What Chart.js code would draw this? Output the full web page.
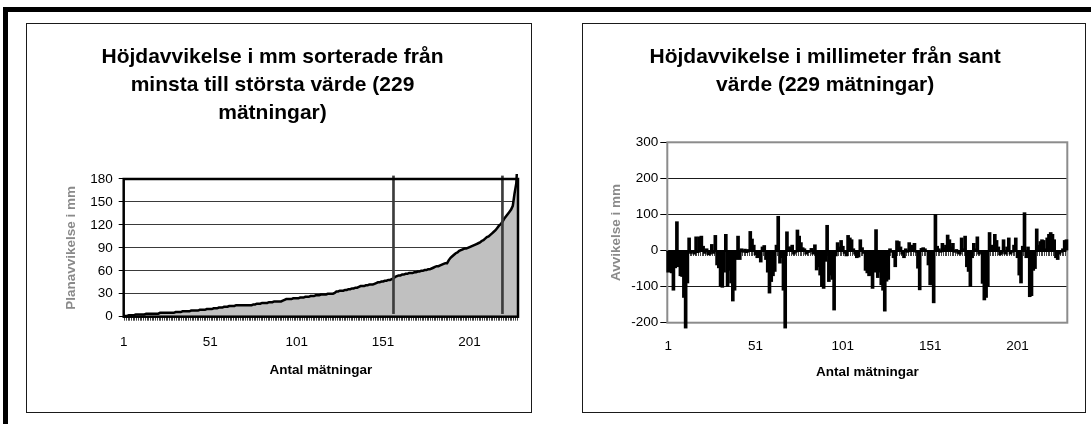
<!DOCTYPE html>
<html>
<head>
<meta charset="utf-8">
<script src="https://cdn.jsdelivr.net/npm/chart.js@4.4.1/dist/chart.umd.min.js"></script>
<style>
  html, body { margin: 0; padding: 0; background: #fff; width: 1091px; height: 424px; overflow: hidden; }
  #frame { position: absolute; left: 3px; top: 7px; width: 1200px; height: 500px;
           border-left: 5px solid #000; border-top: 5px solid #000; }
  .panel { position: absolute; top: 23px; height: 388px; border: 1px solid #1a1a1a; background: #fff; }
  #p1 { left: 26px; width: 504px; }
  #p2 { left: 582px; width: 502px; }
  canvas { display: block; }
</style>
</head>
<body>
<div id="frame"></div>
<div class="panel" id="p1"><canvas id="c1" width="504" height="388"></canvas></div>
<div class="panel" id="p2"><canvas id="c2" width="502" height="388"></canvas></div>

<script>
// ---- data ---------------------------------------------------------------
const measurementCount = 229;
const categories = [];
for (let i = 1; i <= measurementCount; i++) categories.push(String(i));

const xTickLabels = ['1', '51', '101', '151', '201'];

// sorted height deviations in mm (smallest to largest)
const sortedDeviation = [
  1, 1, 1, 2, 2, 2, 2, 3, 3, 3,
  3, 3, 3, 4, 4, 4, 4, 4, 4, 4,
  4, 5, 5, 5, 5, 5, 5, 5, 5, 5,
  6, 6, 6, 6, 7, 7, 7, 7, 7, 8,
  8, 8, 8, 8, 9, 9, 9, 9, 10, 10,
  10, 10, 11, 11, 11, 12, 12, 12, 13, 13,
  13, 14, 14, 14, 14, 15, 15, 15, 15, 15,
  15, 15, 15, 15, 15, 16, 16, 17, 17, 17,
  18, 18, 18, 18, 19, 19, 19, 20, 20, 20,
  20, 20, 21, 22, 23, 23, 23, 23, 24, 24,
  24, 24, 25, 25, 25, 26, 26, 26, 27, 27,
  27, 28, 28, 28, 29, 29, 29, 29, 30, 30,
  30, 30, 31, 33, 33, 34, 34, 34, 35, 35,
  36, 36, 37, 37, 38, 38, 39, 40, 40, 40,
  41, 41, 42, 42, 42, 43, 44, 45, 45, 46,
  46, 47, 47, 48, 48, 49, 50, 52, 53, 54,
  54, 55, 55, 56, 56, 57, 57, 57, 58, 58,
  59, 59, 60, 60, 61, 61, 62, 62, 63, 64,
  65, 66, 66, 67, 68, 69, 70, 70, 74, 77,
  79, 81, 83, 84, 86, 87, 88, 89, 89, 90,
  91, 92, 93, 94, 95, 96, 97, 99, 100, 102,
  104, 105, 107, 109, 111, 113, 116, 119, 121, 124,
  128, 131, 134, 137, 140, 145, 161, 174, 215
];

// percentile markers on the sorted curve (measurement number) and their vertical span
const markerCategories = ['157', '220'];
const markerSpan = [4, 184];

// deviation from true value in mm, in measurement order
const deviation = [
  -60, -58, -62, -110, -48, 80, -45, -70, -72, -130,
  -215, -90, 35, -8, -5, -10, 38, -6, 38, 40,
  12, -8, 5, -12, -10, 17, -8, 42, -40, -48,
  -100, -102, -60, 45, -100, -55, -90, -140, -110, -25,
  40, -25, 5, -5, 4, -6, 3, 53, 32, 15,
  -12, -20, -15, -32, 10, 14, -25, -60, -118, -86,
  -70, -58, 15, 95, -35, -20, -110, -215, 52, 10,
  10, 15, -10, -5, 57, 40, 22, 8, 5, -10,
  -6, -4, 6, -10, 16, -54, -45, -68, -100, -105,
  -30, 70, -86, -68, -80, -165, -15, 22, 10, 28,
  12, -8, -15, 42, 35, 30, 5, -10, -20, -18,
  30, 8, -8, -55, -62, -70, -68, -105, -60, 58,
  -75, -60, -95, -110, -168, -85, -80, 5, -5, -20,
  -45, 27, 25, 10, -10, -20, 5, -5, 22, 5,
  15, 20, -5, -49, -109, 6, 8, 5, -3, -40,
  -95, -95, -145, 100, 12, 5, -5, 20, 8, 15,
  43, 30, 10, 20, -5, 3, -8, -10, 35, 5,
  40, -45, -58, -100, -20, 20, 5, 38, -10, -5,
  -91, -137, -130, -100, 50, 15, 8, 45, 28, 10,
  -12, -8, 30, -10, 10, 35, -10, -5, 15, 35,
  -20, -68, -90, 12, 105, -20, 10, -128, -125, -55,
  -50, 60, 15, 25, 30, 28, 5, 35, 45, 50,
  45, 30, -20, -25, -10, -5, 5, 28, 30
];

// ---- shared look ----------------------------------------------------------
Chart.defaults.font.family = '"Liberation Sans", Arial, sans-serif';
Chart.defaults.color = '#000';
Chart.defaults.animation = false;

const tickFont = { size: 13.5 };
const axisTitleFont = { size: 13.5, weight: 'bold' };
const chartTitleFont = { size: 21, weight: 'bold', lineHeight: 1.3333 };

function sparseLabel(value) {
  const l = this.getLabelForValue(value);
  return xTickLabels.includes(l) ? l : '';
}

// outline around the plot area
function plotFrame(color, width, after) {
  const hook = after ? 'afterDatasetsDraw' : 'beforeDatasetsDraw';
  return {
    id: 'plotFrame',
    [hook](chart) {
      const { ctx, chartArea: a } = chart;
      ctx.save();
      ctx.strokeStyle = color;
      ctx.lineWidth = width;
      ctx.strokeRect(a.left, a.top, a.right - a.left, a.bottom - a.top);
      ctx.restore();
    }
  };
}

// the vertical axis caption is slightly soft
const softAxisTitle = {
  id: 'softAxisTitle',
  afterLayout(chart) {
    const s = chart.scales.y;
    if (s && !s._softTitle) {
      const draw = s.drawTitle.bind(s);
      s.drawTitle = function () {
        const ctx = chart.ctx;
        ctx.save();
        ctx.filter = 'blur(0.7px)';
        draw();
        ctx.restore();
      };
      s._softTitle = true;
    }
  }
};

// ---- chart 1: sorted deviations -------------------------------------------
new Chart(document.getElementById('c1'), {
  type: 'line',
  data: {
    labels: categories,
    datasets: [
      {
        type: 'bar',
        data: categories.map(c => markerCategories.includes(c) ? markerSpan : null),
        backgroundColor: '#3c3c3c',
        barThickness: 2,
        clip: false,
        order: 0
      },
      {
        type: 'line',
        data: sortedDeviation,
        borderColor: '#000',
        borderWidth: 2.5,
        backgroundColor: '#c0c0c0',
        fill: 'origin',
        pointRadius: 0,
        tension: 0,
        clip: { left: 2, top: 5, right: 2, bottom: 2 },
        order: 1
      }
    ]
  },
  options: {
    responsive: false,
    devicePixelRatio: 1,
    layout: { padding: { left: 0, right: 13, top: 0, bottom: 0 } },
    plugins: {
      legend: { display: false },
      tooltip: { enabled: false },
      title: {
        display: true,
        text: ['Höjdavvikelse i mm sorterade från', 'minsta till största värde (229', 'mätningar)'],
        font: chartTitleFont,
        color: '#000',
        padding: { top: 19, bottom: 52 }
      }
    },
    scales: {
      x: {
        type: 'category',
        offset: false,
        grid: { display: true, drawOnChartArea: false, drawTicks: true, tickLength: 4, tickColor: '#444', lineWidth: 1 },
        border: { display: false },
        ticks: { autoSkip: false, maxRotation: 0, minRotation: 0, padding: 13, font: tickFont, callback: sparseLabel },
        title: { display: true, text: 'Antal mätningar', font: axisTitleFont, padding: { top: 4, bottom: 34 } },
        afterFit(scale) { scale.height = 95.3; }
      },
      y: {
        min: 0,
        max: 180,
        ticks: { stepSize: 30, padding: 6, font: tickFont },
        grid: { color: '#3a3a3a', lineWidth: 1, tickLength: 5, tickColor: '#000' },
        border: { display: false },
        title: { display: true, text: 'Planavvikelse i mm', color: '#8a8a8a', font: axisTitleFont, padding: { top: 36.6, bottom: 0 } },
        afterFit(scale) { scale.width = 96.7; }
      }
    }
  },
  plugins: [plotFrame('#000', 2.5, true), softAxisTitle]
});

// ---- chart 2: deviation per measurement -----------------------------------
new Chart(document.getElementById('c2'), {
  type: 'bar',
  data: {
    labels: categories,
    datasets: [{
      data: deviation,
      backgroundColor: '#000',
      borderWidth: 0,
      barThickness: 3,
      clip: false
    }]
  },
  options: {
    responsive: false,
    devicePixelRatio: 1,
    layout: { padding: { left: 0, right: 17.7, top: 0, bottom: 0 } },
    plugins: {
      legend: { display: false },
      tooltip: { enabled: false },
      title: {
        display: true,
        text: ['Höjdavvikelse i millimeter från sant', 'värde (229 mätningar)'],
        font: chartTitleFont,
        color: '#000',
        padding: { top: 19, bottom: 43.3 }
      }
    },
    scales: {
      x: {
        type: 'category',
        offset: true,
        grid: { display: false, drawTicks: false },
        border: { display: false },
        ticks: { autoSkip: false, maxRotation: 0, minRotation: 0, padding: 15.2, font: tickFont, callback: sparseLabel },
        title: { display: true, text: 'Antal mätningar', font: axisTitleFont, padding: { top: 4, bottom: 31.9 } },
        afterFit(scale) { scale.height = 89.3; }
      },
      x0: {
        type: 'category',
        axis: 'x',
        position: { y: 0 },
        offset: true,
        ticks: { display: false },
        grid: { offset: true, drawOnChartArea: false, drawTicks: true, tickLength: 4, tickColor: '#444', lineWidth: 1 },
        border: { display: true, color: '#000', width: 2 }
      },
      y: {
        min: -200,
        max: 300,
        ticks: { stepSize: 100, padding: 2, font: tickFont },
        grid: {
          color: ctx => (ctx.tick && [300, 0, -200].includes(ctx.tick.value)) ? 'rgba(0,0,0,0)' : '#1a1a1a',
          lineWidth: 1,
          tickLength: 7,
          tickColor: '#000'
        },
        border: { display: false },
        title: { display: true, text: 'Avvikelse i mm', color: '#8a8a8a', font: axisTitleFont, padding: { top: 25.6, bottom: 0 } },
        afterFit(scale) { scale.width = 84.3; }
      }
    }
  },
  plugins: [plotFrame('#8c8c8c', 2, false), softAxisTitle]
});
</script>
</body>
</html>
